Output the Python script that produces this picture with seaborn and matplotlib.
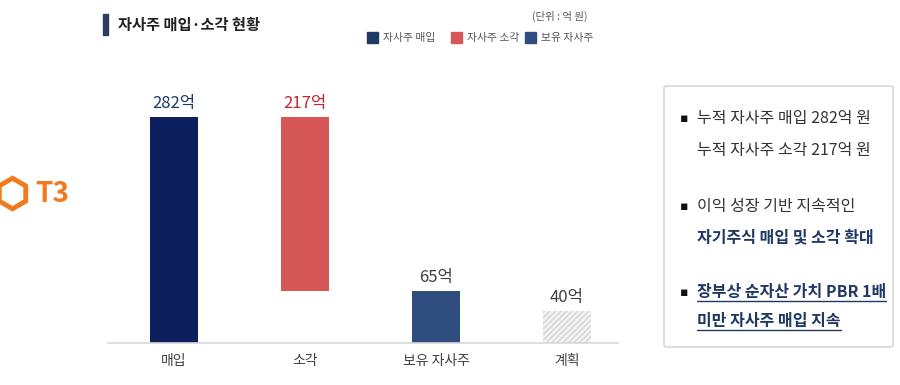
import seaborn as sns
import matplotlib.pyplot as plt
from matplotlib.patches import FancyBboxPatch, Rectangle
import pandas as pd

sns.set_theme(style="white")
plt.rcParams['font.family'] = ['Noto Sans CJK KR', 'DejaVu Sans']

categories = ['매입', '소각', '보유 자사주', '계획']
values = [282, 217, 65, 40]
bottoms = [0, 65, 0, 0]
value_labels = ['282억', '217억', '65억', '40억']
legend_labels = ['자사주 매입', '자사주 소각', '보유 자사주']
notes = [
    ('누적 자사주 매입 282억 원', '누적 자사주 소각 217억 원'),
    ('이익 성장 기반 지속적인', '자기주식 매입 및 소각 확대'),
    ('장부상 순자산 가치 PBR 1배', '미만 자사주 매입 지속'),
]

bar_colors = ['#0d1f5c', '#d65757', '#2f4d7e', '#f3f3f3']
label_colors = ['#1f3864', '#c0262c', '#404040', '#404040']

df = pd.DataFrame({'cat': categories, 'val': values})

W, H = 900, 385
fig = plt.figure(figsize=(9, 3.85), dpi=100)
ax = fig.add_axes([108 / W, 42 / H, 510 / W, 283 / H])

sns.barplot(data=df, x='cat', y='val', hue='cat', palette=bar_colors,
            width=0.366, legend=False, ax=ax, saturation=1)

for i, p in enumerate(ax.patches):
    p.set_y(bottoms[i])
    p.set_linewidth(0)
    top = bottoms[i] + values[i]
    ax.text(i, top + 6, value_labels[i], ha='center', va='bottom',
            fontsize=12, color=label_colors[i],
            fontweight='medium' if i < 2 else 'normal')
hatch_bar = ax.patches[3]
hatch_bar.set_hatch('//////')
hatch_bar.set_edgecolor('#d4d4d4')
hatch_bar.set_linewidth(0)

ax.set_xlim(-0.504, 3.389)
ax.set_ylim(0, 353.2)
ax.set_xlabel('')
ax.set_ylabel('')
ax.set_yticks([])
ax.tick_params(axis='x', length=0, pad=8, labelsize=10, labelcolor='#404040')
for s in ['top', 'right', 'left']:
    ax.spines[s].set_visible(False)
ax.spines['bottom'].set_color('#d9d9d9')
ax.spines['bottom'].set_linewidth(1.2)


def px(x, y):
    return x / W, 1 - y / H


# title
fig.patches.append(Rectangle(px(103, 35), 5 / W, 21 / H, transform=fig.transFigure,
                             color='#2b3d63', zorder=3))
fig.text(*px(118, 25), '자사주 매입·소각 현황', fontsize=11, fontweight='bold',
         color='#222222', va='center')

# unit + legend
fig.text(*px(587, 16), '(단위 : 억 원)', fontsize=7.5, color='#555555',
         ha='right', va='center')
leg_x = [367, 451, 525]
leg_colors = ['#1f3864', '#d65757', '#2f4d7e']
for lx, lab, c in zip(leg_x, legend_labels, leg_colors):
    fig.patches.append(Rectangle(px(lx, 43), 11 / W, 11 / H, transform=fig.transFigure,
                                 color=c))
    fig.text(*px(lx + 16, 38), lab, fontsize=7.8, color='#555555', va='center')

# logo
fig.lines.append(plt.Line2D([12 / W], [1 - 193 / H], marker='h', markersize=22,
                            markerfacecolor='none', markeredgecolor='#f07a1e',
                            markeredgewidth=3.5, transform=fig.transFigure))
fig.text(*px(35, 194), 'T3', fontsize=20, fontweight='bold', color='#f07a1e',
         va='center')

# right box
fig.patches.append(FancyBboxPatch(px(664, 347), 229 / W, 261 / H,
                                  boxstyle='round,pad=0,rounding_size=0.004',
                                  transform=fig.transFigure, facecolor='white',
                                  edgecolor='#d0d0d0', linewidth=1))
line_y = [(118, 150), (207, 237), (292, 321)]
styles = [('#333333', 'normal', False), ('#1f3864', 'bold', False),
          ('#1f3864', 'bold', True)]
fig.canvas.draw()
renderer = fig.canvas.get_renderer()
for (l1, l2), (y1, y2), (c, w, under) in zip(notes, line_y, styles):
    first_color = '#333333' if w == 'bold' and not under else c
    first_weight = 'normal' if w == 'bold' and not under else w
    fig.text(*px(680, y1), '▪', fontsize=9, color='#111111', va='center',
             family=['DejaVu Sans'])
    t1 = fig.text(*px(697, y1), l1, fontsize=11.5, color=first_color,
                  fontweight=first_weight, va='center')
    t2 = fig.text(*px(697, y2), l2, fontsize=11.5, color=c, fontweight=w,
                  va='center')
    if under:
        for t, yy in ((t1, y1), (t2, y2)):
            bb = t.get_window_extent(renderer)
            fig.lines.append(plt.Line2D([bb.x0 / W, bb.x1 / W],
                                        [1 - (yy + 8.5) / H] * 2,
                                        transform=fig.transFigure,
                                        color=c, linewidth=1))

fig.savefig('out.png', dpi=100)
